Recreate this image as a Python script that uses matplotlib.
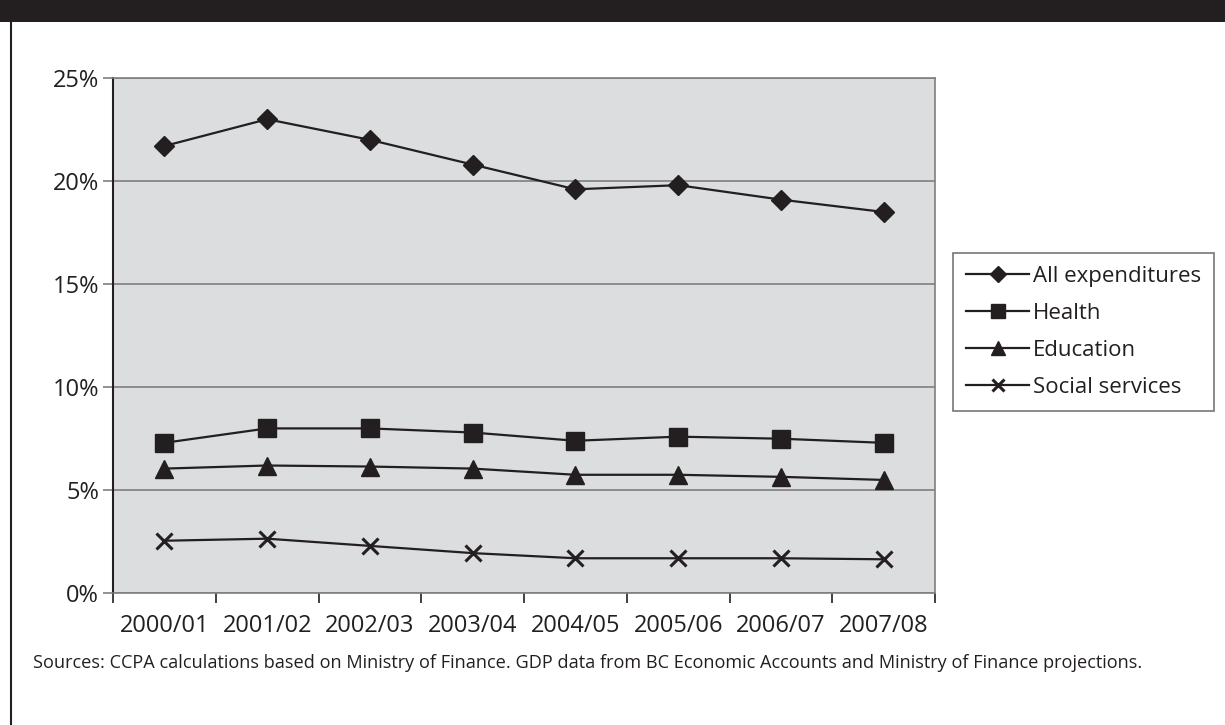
import matplotlib
matplotlib.use("Agg")
import matplotlib.pyplot as plt
from matplotlib.lines import Line2D
from matplotlib.patches import Rectangle

# Fiscal years
years = ["2000/01", "2001/02", "2002/03", "2003/04",
         "2004/05", "2005/06", "2006/07", "2007/08"]

# Spending as a share of GDP (%)
all_expenditures = [21.7, 23.0, 22.0, 20.8, 19.6, 19.8, 19.1, 18.5]
health = [7.3, 8.0, 8.0, 7.8, 7.4, 7.6, 7.5, 7.3]
education = [6.05, 6.2, 6.15, 6.05, 5.75, 5.75, 5.65, 5.5]
social_services = [2.55, 2.65, 2.3, 1.95, 1.7, 1.7, 1.7, 1.65]

series_labels = ["All expenditures", "Health", "Education", "Social services"]
y_ticks = [0, 5, 10, 15, 20, 25]

plt.rcParams["font.family"] = ["Open Sans", "DejaVu Sans"]

fig = plt.figure(figsize=(12.25, 7.25), dpi=100)

# Header band and left frame rule
fig.patches.append(Rectangle((0, 1 - 22 / 725), 1, 22 / 725, transform=fig.transFigure,
                             facecolor="#231f20", edgecolor="none", zorder=0))
fig.lines.append(Line2D([11 / 1225, 11 / 1225], [0, 1 - 22 / 725], transform=fig.transFigure,
                        color="#231f20", lw=1.5))

ax = fig.add_axes([113 / 1225, (725 - 593.3) / 725, (935 - 113) / 1225, (593.3 - 78) / 725])
ax.set_facecolor("#dcdddf")

x = list(range(len(years)))
styles = [
    (all_expenditures, "D", 10.5, 1.0),
    (health, "s", 13, 1.0),
    (education, "^", 12.5, 1.0),
    (social_services, "x", 11, 2.2),
]
for (vals, mk, ms, mew), lab in zip(styles, series_labels):
    ax.plot(x, vals, color="#231f20", lw=1.6, marker=mk, markersize=ms,
            markeredgewidth=mew, markerfacecolor="#231f20",
            markeredgecolor="#231f20", label=lab, clip_on=False, zorder=3)

ax.set_xlim(-0.5, len(years) - 0.5)
ax.set_ylim(0, 25)

# Gridlines and ticks
ax.set_yticks(y_ticks)
ax.set_yticklabels([f"{v}%" for v in y_ticks])
ax.yaxis.grid(True, color="#7f7f7f", lw=1.2)
ax.set_axisbelow(True)
ax.set_xticks(x)
ax.set_xticklabels(years)
ax.set_xticks([i - 0.5 for i in range(len(years) + 1)], minor=True)
ax.tick_params(axis="x", which="major", length=0, labelsize=17, pad=15, colors="#231f20")
ax.tick_params(axis="x", which="minor", length=7, width=1.2, color="#231f20")
ax.tick_params(axis="y", length=7, width=1.2, color="#7f7f7f", labelsize=17,
               pad=3, labelcolor="#231f20")

ax.spines["left"].set_color("#231f20")
ax.spines["left"].set_linewidth(1.5)
for s in ("top", "right", "bottom"):
    ax.spines[s].set_color("#7f7f7f")
    ax.spines[s].set_linewidth(1.2)

leg = ax.legend(loc="upper left", bbox_to_anchor=(953 / 1225, (725 - 253) / 725),
                bbox_transform=fig.transFigure, fontsize=16, frameon=True,
                fancybox=False, edgecolor="#555555", handlelength=2.85,
                handletextpad=0.15, borderpad=0.58, labelspacing=0.72,
                markerscale=0.75, borderaxespad=0)
leg.get_frame().set_linewidth(1.2)
for t in leg.get_texts():
    t.set_color("#231f20")

fig.text(33 / 1225, 1 - 663 / 725,
         "Sources: CCPA calculations based on Ministry of Finance. GDP data from BC Economic "
         "Accounts and Ministry of Finance projections.",
         fontsize=13.1, color="#231f20", va="center", ha="left")

fig.savefig("out.png", dpi=100)
